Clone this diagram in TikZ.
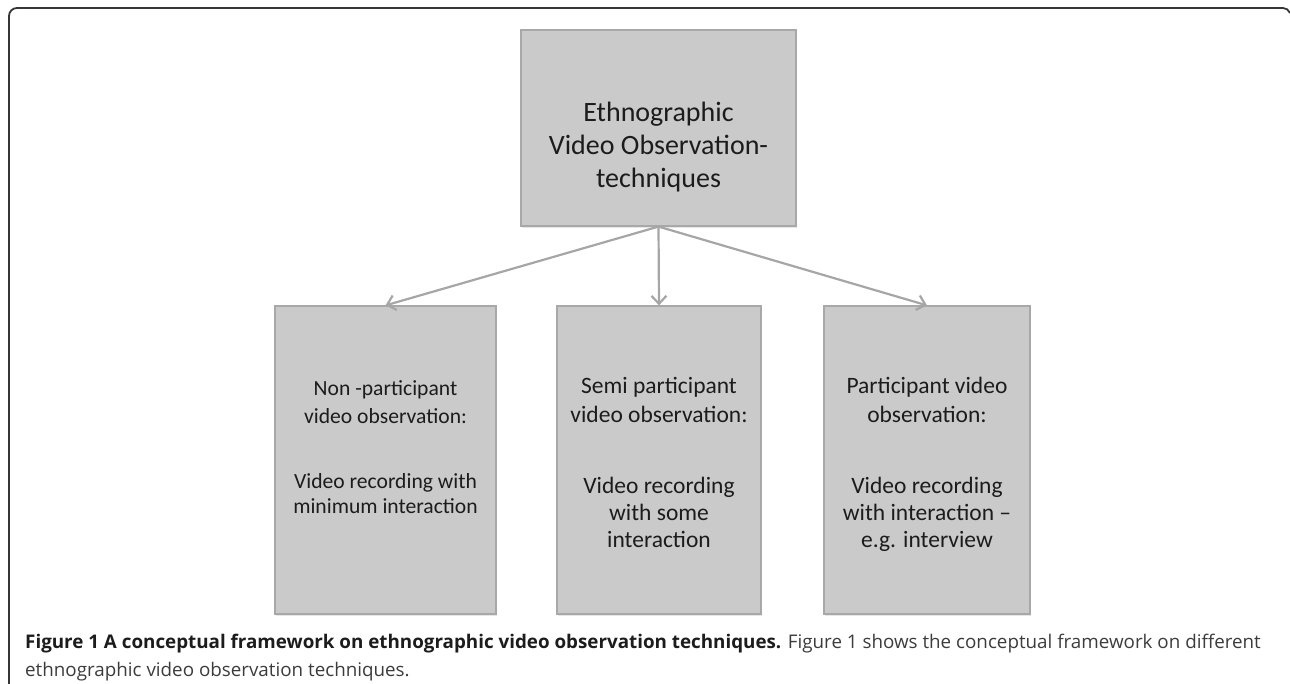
\documentclass[tikz,border=0pt]{standalone}
\usepackage{fontspec}
\setmainfont{Carlito}
\newfontfamily\capfont{Open Sans}
\usetikzlibrary{arrows.meta,shadows}
\definecolor{boxgray}{HTML}{CACACA}
\definecolor{boxedge}{HTML}{A8A8A8}
\definecolor{arrowgray}{HTML}{A6A6A6}
\definecolor{inkgray}{HTML}{1C1C1C}
\definecolor{capgray}{HTML}{3C3C3C}
\definecolor{framegray}{HTML}{363636}

\begin{document}
\begin{tikzpicture}[x=1pt,y=1pt]
                \tikzstyle{every node}+=[inner sep=0pt]
                \tikzstyle{techbox}=[draw=boxedge, fill=boxgray, line width=1.2pt, drop shadow={shadow xshift=1pt, shadow yshift=-2pt, opacity=0.2}]
                \tikzstyle{boxtext}=[align=center, text=inkgray, anchor=base]
                \tikzstyle{branch}=[draw=arrowgray, line width=2.2pt, -{Straight Barb[length=8pt, width=15pt]}]
                \useasboundingbox (0,0) rectangle (1290,-684);
                \draw [framegray, line width=1.8pt] (9,-684) -- (9,-16) arc[start angle=180, end angle=90, radius=8] -- (1283,-8) to[out=0, in=115] (1290,-13);
                % boxes
                \node [techbox, minimum width=275, minimum height=196] (top) at (658.5,-128) {};
                \node [techbox, minimum width=221, minimum height=308] (nonpart) at (385.5,-460) {};
                \node [techbox, minimum width=204, minimum height=308] (semipart) at (659,-460) {};
                \node [techbox, minimum width=206, minimum height=308] (part) at (927,-460) {};
                % texts (base = last line)
                \node [boxtext, font=\fontsize{28}{33}\selectfont] (toplabel) at (658.5,-188) {Ethnographic\\Video Observation-\\techniques};
                \node [boxtext, font=\fontsize{21.6}{28}\selectfont] (nonhead) at (385.5,-423) {Non -participant\\video observation:};
                \node [boxtext, font=\fontsize{21.6}{25}\selectfont] (nonbody) at (385.5,-513) {Video recording with\\minimum interaction};
                \node [boxtext, font=\fontsize{23.5}{29}\selectfont] (semihead) at (659,-422) {Semi participant\\video observation:};
                \node [boxtext, font=\fontsize{23.5}{27}\selectfont] (semibody) at (659,-547) {Video recording\\with some\\interaction};
                \node [boxtext, font=\fontsize{23.5}{29}\selectfont] (parthead) at (927,-422) {Participant video\\observation:};
                \node [boxtext, font=\fontsize{23.5}{27}\selectfont] (partbody) at (927,-547) {Video recording\\with interaction --\\e.g. interview};
                % arrows
                \draw [branch] (top.south) -- (nonpart.north);
                \draw [branch] (top.south) -- (semipart.north);
                \draw [branch] (top.south) -- (part.north);
                % caption
                \node [anchor=base west, text=capgray, font=\capfont\fontsize{18.8}{28}\selectfont] (capline) at (25,-648) {\textcolor{inkgray}{\bfseries Figure 1 A conceptual framework on ethnographic video observation techniques.} Figure 1 shows the conceptual framework on different};
                \node [anchor=base west, text=capgray, font=\capfont\fontsize{18.8}{28}\selectfont] (capend) at (25,-676) {ethnographic video observation techniques.};
            \end{tikzpicture}
\end{document}
